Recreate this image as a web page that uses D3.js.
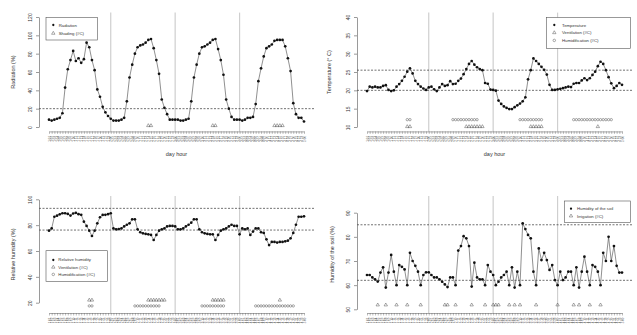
<!DOCTYPE html>
<html>
<head>
<meta charset="utf-8">
<script src="https://cdn.jsdelivr.net/npm/d3@7"></script>
<style>
  body { margin: 0; background: #fff; }
  svg { display: block; font-family: "Liberation Sans", Arial, sans-serif; }
</style>
</head>
<body>
<svg id="chart" width="637" height="335"></svg>
<script>
// hourly readings, 4 days (96 points)
var radiation = [8, 7, 8, 9, 10, 15, 43, 63, 73, 83, 72, 75, 70, 74, 92, 87, 73, 62, 41, 33, 22, 16, 12, 9,
  7, 7, 7, 8, 10, 28, 54, 68, 80, 87, 89, 90, 92, 95, 96, 86, 73, 58, 30, 21, 14, 8, 8, 8,
  8, 7, 7, 8, 9, 28, 54, 68, 80, 87, 88, 90, 92, 95, 96, 85, 73, 57, 30, 20, 11, 8, 8, 8,
  7, 8, 10, 10, 11, 25, 50, 64, 77, 86, 88, 90, 94, 95, 95, 95, 88, 75, 61, 26, 14, 10, 10, 6];

var temperature = [19.8, 21, 20.8, 21, 20.8, 20.8, 21.2, 21.4, 20.1, 19.8, 20, 21, 21.7, 22.6, 23.7, 25.1, 26, 24.6, 22.6, 21.7, 21, 20.5, 20.1, 20.8,
  21, 20.3, 19.8, 20.8, 21.7, 21.2, 21.4, 22.5, 21.7, 21.8, 22.6, 23.2, 24.4, 25.8, 27.2, 28, 27, 26.3, 25.8, 25.5, 22, 21.8, 20.2, 20.1,
  19.9, 17.2, 16.3, 15.6, 15.2, 14.9, 14.9, 15.4, 15.9, 16.4, 17, 18.1, 23, 25.5, 28.7, 28, 27.2, 26.4, 25.6, 24.3, 21.5, 20.1, 20.1, 20.3,
  20.4, 20.6, 20.8, 21, 20.9, 21.8, 22, 22, 22.7, 23.3, 22.8, 23.3, 24.2, 25.1, 26.6, 27.8, 27.2, 25.5, 23.6, 21.9, 20.6, 21.2, 22, 21.5];

var relHumidity = [75.7, 77.5, 86.5, 87.3, 88.4, 89.2, 89.2, 88.7, 87.4, 89, 89.5, 88.5, 88, 82.7, 79.4, 75.7, 71.6, 75.7, 81.4, 86.1, 87.9, 88, 88.5, 89.2,
  77.5, 76.8, 77, 77.5, 79, 80.3, 81.4, 84.5, 84.5, 76.8, 74.5, 73.7, 73.2, 72.9, 72.4, 68.5, 72.4, 75.7, 76.8, 77.5, 79, 79.4, 79.4, 79,
  76.8, 76.8, 77.5, 79, 80.3, 81.9, 84.5, 84.5, 76.8, 74.5, 73.7, 73.2, 72.9, 72.9, 68.5, 72.4, 75.7, 76.8, 77.5, 79, 80.3, 79.4, 79.4, 72.9,
  77.5, 76.8, 77.5, 72.4, 75, 77.5, 77.5, 74.5, 74, 69, 64.6, 67, 67, 66.5, 67, 67, 67.5, 68, 69.8, 74, 80.3, 86.5, 86.5, 86.8];

var soilHumidity = [64.2, 64.2, 63.2, 62.4, 61.5, 65.2, 67.4, 59, 65.2, 72.5, 65.6, 60, 68.3, 67.6, 66.5, 60, 73.4, 70, 68, 65.6, 60, 64.2, 65.3, 65.3,
  64.2, 63.2, 63.2, 62.4, 61.4, 60.3, 59.2, 63.2, 63.2, 60, 74.3, 76.2, 80.3, 79.4, 76.2, 59.4, 69.3, 63.2, 62.4, 62.4, 60, 68.3, 65.6, 64.2,
  60, 61.4, 63.2, 64.2, 65.6, 60, 67.4, 59, 65.6, 60, 85.6, 83.2, 80.8, 79.4, 65.6, 60, 75.2, 70.4, 73.4, 70.4, 66.3, 68.3, 62.1, 60,
  65.6, 62.1, 63.2, 65.6, 65.6, 60, 67.4, 59, 65.6, 71.8, 65.6, 60, 68.3, 67.6, 65.6, 60, 73.4, 70, 80, 70, 76.2, 68, 65.2, 65.2];

// actuator events (index of the hourly reading)
var shadingHours = [37, 38, 61, 62, 84, 85, 86, 87];
var ventilationHours = [15, 16, 37, 38, 39, 40, 41, 42, 43, 61, 62, 63, 64, 65, 86];
var humidificationHours = [15, 16, 32, 33, 34, 35, 36, 37, 38, 39, 40, 41, 57, 58, 59, 60, 61, 62, 63, 64, 65,
  77, 78, 79, 80, 81, 82, 83, 84, 85, 86, 87, 88, 89, 90, 91];
var irrigationHours = [4, 7, 11, 15, 20, 29, 30, 33, 39, 44, 47, 48, 49, 53, 55, 57, 63, 71, 77, 79, 83, 87];

// midnight positions and x tick labels
var dayBreaks = [23, 47, 71];
var dayNames = ["1", "2", "3", "4", "5"];
var hourNames = ["00", "01", "02", "03", "04", "05", "06", "07", "08", "09", "10", "11",
  "12", "13", "14", "15", "16", "17", "18", "19", "20", "21", "22", "23"];
var xLabels = radiation.map(function (d, i) {
  return dayNames[Math.floor((i + 1) / 24)] + " " + hourNames[(i + 1) % 24];
});

var svg = d3.select("#chart");
var ink = "#333";

function drawPanel(cfg) {
  var g = svg.append("g");
  var x = d3.scaleLinear().domain([0, cfg.values.length - 1]).range([cfg.x0, cfg.x0 + 255]);
  var y = d3.scaleLinear().domain(cfg.yDomain).range(cfg.yRange);
  var left = cfg.x0 - 10, right = cfg.x0 + 265;

  // day separators
  g.selectAll(".day").data(dayBreaks).enter().append("line")
    .attr("x1", function (d) { return x(d); }).attr("x2", function (d) { return x(d); })
    .attr("y1", cfg.top).attr("y2", cfg.bottom)
    .attr("stroke", "#cfcfcf").attr("stroke-width", 1.2);

  // set point lines
  g.selectAll(".ref").data(cfg.refs).enter().append("line")
    .attr("x1", left).attr("x2", right)
    .attr("y1", function (d) { return y(d); }).attr("y2", function (d) { return y(d); })
    .attr("stroke", "#333").attr("stroke-width", 0.7).attr("stroke-dasharray", "2,1.5");

  // y axis
  var ya = g.append("g").attr("transform", "translate(" + left + ",0)")
    .call(d3.axisLeft(y).tickValues(cfg.ticks).tickSize(3).tickSizeOuter(0));
  ya.select(".domain").attr("stroke", "#555").attr("stroke-width", 0.6);
  ya.selectAll(".tick line").attr("stroke", "#555").attr("stroke-width", 0.6);
  ya.selectAll(".tick text").attr("transform", "rotate(-90)")
    .attr("x", 0).attr("y", -7).attr("dy", 0)
    .style("text-anchor", "middle").style("font-size", "5px").attr("fill", ink);

  // x axis
  var xa = g.append("g").attr("transform", "translate(0," + cfg.bottom + ")")
    .call(d3.axisBottom(x).tickValues(d3.range(cfg.values.length)).tickSize(2.5).tickSizeOuter(0)
      .tickFormat(function (i) { return xLabels[i]; }));
  xa.select(".domain").attr("stroke", "#555").attr("stroke-width", 0.5);
  xa.selectAll(".tick line").attr("stroke", "#555").attr("stroke-width", 0.4);
  xa.selectAll(".tick text").attr("transform", "rotate(-90)")
    .attr("x", -4.5).attr("y", 0).attr("dy", "0.35em")
    .style("text-anchor", "end").style("font-size", "3px").attr("fill", "#555");

  // y title
  g.append("text")
    .attr("transform", "translate(" + cfg.titleX + "," + ((cfg.top + cfg.bottom) / 2) + ") rotate(-90)")
    .attr("text-anchor", "middle").style("font-size", "5.5px").attr("fill", ink)
    .text(cfg.yTitle);
  if (cfg.xTitle) {
    g.append("text").attr("x", (left + right) / 2).attr("y", cfg.bottom + 25)
      .attr("text-anchor", "middle").style("font-size", "5.5px").attr("fill", ink)
      .text(cfg.xTitle);
  }

  // series
  g.append("path").datum(cfg.values)
    .attr("fill", "none").attr("stroke", "#444").attr("stroke-width", 0.6)
    .attr("d", d3.line().x(function (d, i) { return x(i); }).y(function (d) { return y(d); }));
  g.selectAll(".pt").data(cfg.values).enter().append("circle")
    .attr("cx", function (d, i) { return x(i); }).attr("cy", function (d) { return y(d); })
    .attr("r", 1.35).attr("fill", "#111");

  // event markers
  cfg.markers.forEach(function (m) {
    g.selectAll(null).data(m.hours).enter().append("path")
      .attr("transform", function (d) { return "translate(" + x(d) + "," + y(m.level) + ")"; })
      .attr("d", d3.symbol().type(m.shape).size(m.shape === d3.symbolCircle ? 4.5 : 5)())
      .attr("fill", "none").attr("stroke", "#444").attr("stroke-width", 0.45);
  });

  // legend
  var L = cfg.legend;
  var lg = g.append("g").attr("transform", "translate(" + L.x + "," + L.y + ")");
  lg.append("rect").attr("width", L.w).attr("height", L.h)
    .attr("fill", "#fff").attr("stroke", "#555").attr("stroke-width", 0.6);
  L.items.forEach(function (it, k) {
    var ry = L.row0 + k * L.step;
    var sym = lg.append("path").attr("transform", "translate(" + L.sx + "," + ry + ")")
      .attr("d", d3.symbol().type(it.shape).size(it.filled ? 4 : 5)());
    if (it.filled) sym.attr("fill", "#111");
    else sym.attr("fill", "none").attr("stroke", "#444").attr("stroke-width", 0.45);
    lg.append("text").attr("x", L.tx).attr("y", ry).attr("dy", "0.35em")
      .style("font-size", "4.3px").attr("fill", ink).text(it.label);
  });
}

drawPanel({
  values: radiation, x0: 49, top: 12.6, bottom: 131.4,
  yDomain: [0, 120], yRange: [127, 17], ticks: [0, 20, 40, 60, 80, 100, 120],
  refs: [20], titleX: 15, yTitle: "Radiation (%)", xTitle: "day hour",
  markers: [{ hours: shadingHours, level: 1.5, shape: d3.symbolTriangle }],
  legend: { x: 46, y: 17.3, w: 51.3, h: 22.7, row0: 7.7, step: 8.3, sx: 7.3, tx: 12.7,
    items: [{ label: "Radiation", shape: d3.symbolCircle, filled: true },
            { label: "Shading (#C)", shape: d3.symbolTriangle }] }
});

drawPanel({
  values: temperature, x0: 367, top: 12.6, bottom: 131.4,
  yDomain: [10, 40], yRange: [127, 17], ticks: [10, 15, 20, 25, 30, 35, 40],
  refs: [25.5, 20], titleX: 331, yTitle: "Temperature (° C)", xTitle: "day hour",
  markers: [{ hours: humidificationHours, level: 12, shape: d3.symbolCircle },
            { hours: ventilationHours, level: 10.1, shape: d3.symbolTriangle }],
  legend: { x: 546.3, y: 17.3, w: 84, h: 31, row0: 7.7, step: 7.7, sx: 8, tx: 15.7,
    items: [{ label: "Temperature", shape: d3.symbolCircle, filled: true },
            { label: "Ventilation (#C)", shape: d3.symbolTriangle },
            { label: "Humidification (#C)", shape: d3.symbolCircle }] }
});

drawPanel({
  values: relHumidity, x0: 49, top: 196, bottom: 313,
  yDomain: [20, 100], yRange: [302.7, 199.3], ticks: [20, 40, 60, 80, 100],
  refs: [93, 76.2], titleX: 15, yTitle: "Relative humidity (%)",
  markers: [{ hours: ventilationHours, level: 22, shape: d3.symbolTriangle },
            { hours: humidificationHours, level: 17.5, shape: d3.symbolCircle }],
  legend: { x: 46, y: 250.7, w: 61.3, h: 31, row0: 9.3, step: 7.2, sx: 7.3, tx: 12.3,
    items: [{ label: "Relative humidity", shape: d3.symbolCircle, filled: true },
            { label: "Ventilation (#C)", shape: d3.symbolTriangle },
            { label: "Humidification (#C)", shape: d3.symbolCircle }] }
});

drawPanel({
  values: soilHumidity, x0: 367, top: 196, bottom: 313,
  yDomain: [50, 90], yRange: [309.3, 212.7], ticks: [50, 60, 70, 80, 90],
  refs: [85, 62], titleX: 334, yTitle: "Humidity of the soil (%)",
  markers: [{ hours: irrigationHours, level: 51.8, shape: d3.symbolTriangle }],
  legend: { x: 564.3, y: 201, w: 66, h: 21.3, row0: 7.7, step: 7.3, sx: 6.7, tx: 12.7,
    items: [{ label: "Humidity of the soil", shape: d3.symbolCircle, filled: true },
            { label: "Irrigation (#C)", shape: d3.symbolTriangle }] }
});
</script>
</body>
</html>
